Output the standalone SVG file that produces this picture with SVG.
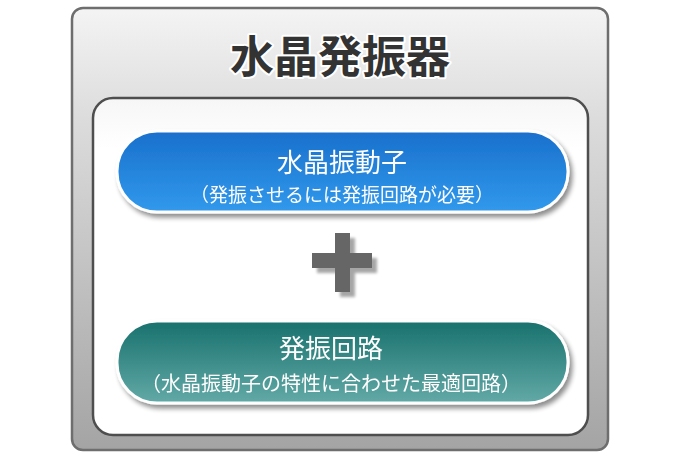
<svg xmlns="http://www.w3.org/2000/svg" width="684" height="456" viewBox="0 0 684 456">
<defs>
<linearGradient id="outerG" x1="0" y1="0" x2="0" y2="1">
<stop offset="0" stop-color="#f4f4f4"/>
<stop offset="0.25" stop-color="#dcdcdc"/>
<stop offset="1" stop-color="#a4a4a4"/>
</linearGradient>
<linearGradient id="innerG" x1="0" y1="0" x2="0" y2="1">
<stop offset="0" stop-color="#f6f6f6"/>
<stop offset="0.15" stop-color="#ffffff"/>
<stop offset="1" stop-color="#ffffff"/>
</linearGradient>
<linearGradient id="blueG" x1="0" y1="0" x2="0" y2="1">
<stop offset="0" stop-color="#1970cc"/>
<stop offset="1" stop-color="#3199ec"/>
</linearGradient>
<linearGradient id="tealG" x1="0" y1="0" x2="0" y2="1">
<stop offset="0" stop-color="#18716d"/>
<stop offset="1" stop-color="#62a9a7"/>
</linearGradient>
<filter id="sh" x="-10%" y="-20%" width="125%" height="150%">
<feGaussianBlur in="SourceAlpha" stdDeviation="2.5"/>
<feOffset dx="3" dy="4" result="b"/>
<feComponentTransfer><feFuncA type="linear" slope="0.45"/></feComponentTransfer>
<feMerge><feMergeNode/><feMergeNode in="SourceGraphic"/></feMerge>
</filter>
<filter id="plusSh" x="-30%" y="-30%" width="170%" height="170%">
<feGaussianBlur in="SourceAlpha" stdDeviation="1.5"/>
<feOffset dx="5" dy="5" result="b"/>
<feComponentTransfer><feFuncA type="linear" slope="0.35"/></feComponentTransfer>
<feMerge><feMergeNode/><feMergeNode in="SourceGraphic"/></feMerge>
</filter>
</defs>
<style>
.jp{font-family:"Noto Sans CJK JP","Noto Sans CJK SC",sans-serif;text-anchor:middle}
.title{font-size:44px;font-weight:bold;fill:#333;stroke:#fff;stroke-width:4px;paint-order:stroke;stroke-linejoin:round}
.pt{font-size:26px;fill:#fff}
.ps{font-size:19px;fill:#fff}
.pill{stroke:#fff;stroke-width:3}
</style>
<rect width="684" height="456" fill="#ffffff"/>
<g id="outer">
<rect x="72" y="8" width="536" height="442" rx="11" fill="url(#outerG)" stroke="#6e6e6e" stroke-width="2.5"/>
<text class="jp title" x="340" y="73">水晶発振器</text>
</g>
<g id="inner">
<rect x="93" y="98" width="495" height="337" rx="20" fill="url(#innerG)" stroke="#4e4e4e" stroke-width="2.5"/>
</g>
<g id="crystal" filter="url(#sh)">
<rect class="pill" x="117" y="131" width="451" height="81" rx="40" fill="url(#blueG)"/>
<text class="jp pt" x="342" y="172">水晶振動子</text>
<text class="jp ps" x="342" y="202">（発振させるには発振回路が必要）</text>
</g>
<g id="plus" filter="url(#plusSh)">
<path d="M335 233 H350 V253 H372 V268 H350 V292 H335 V268 H312 V253 H335 Z" fill="#666"/>
</g>
<g id="circuit" filter="url(#sh)">
<rect class="pill" x="117" y="321" width="451" height="82" rx="40" fill="url(#tealG)"/>
<text class="jp pt" x="331" y="358">発振回路</text>
<text class="jp ps" x="331" y="391" style="font-size:20px">（水晶振動子の特性に合わせた最適回路）</text>
</g>
<g id="connectors"/>
</svg>
